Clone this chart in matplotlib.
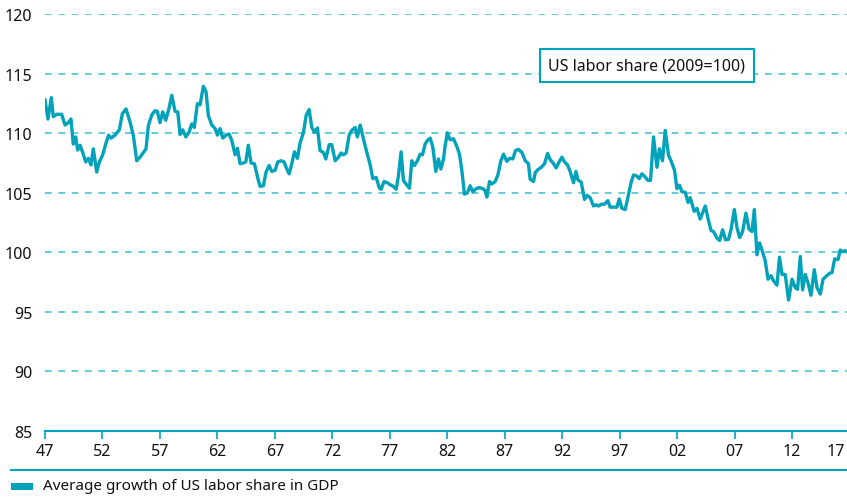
import matplotlib
matplotlib.use('Agg')
import matplotlib.pyplot as plt
from matplotlib.lines import Line2D
from matplotlib.patches import Rectangle
from matplotlib.transforms import ScaledTranslation


# Params
TEAL = '#00A3B9'
GRID = '#4DC2D2'
FONT = 'Noto Sans'

# US labor share (2009=100)
YEARS = [
    1947.00, 1947.26, 1947.55, 1947.72, 1948.02, 1948.45, 1948.74, 1949.03, 1949.26, 1949.46,
    1949.67, 1949.84, 1950.05, 1950.28, 1950.54, 1950.77, 1951.00, 1951.20, 1951.50, 1951.73,
    1952.02, 1952.31, 1952.54, 1952.74, 1953.09, 1953.47, 1953.73, 1954.05, 1954.40, 1954.69,
    1954.98, 1955.27, 1955.79, 1955.99, 1956.29, 1956.57, 1956.77, 1957.01, 1957.24, 1957.50,
    1957.79, 1958.03, 1958.31, 1958.55, 1958.75, 1958.98, 1959.25, 1959.53, 1959.77, 1959.99,
    1960.26, 1960.49, 1960.78, 1961.01, 1961.21, 1961.51, 1961.80, 1962.00, 1962.23, 1962.47,
    1962.75, 1963.01, 1963.25, 1963.54, 1963.74, 1963.97, 1964.21, 1964.47, 1964.69, 1964.93,
    1965.22, 1965.51, 1965.71, 1966.00, 1966.23, 1966.50, 1966.73, 1967.02, 1967.25, 1967.54,
    1967.80, 1968.04, 1968.24, 1968.47, 1968.70, 1968.96, 1969.19, 1969.48, 1969.72, 1969.98,
    1970.21, 1970.44, 1970.70, 1970.93, 1971.22, 1971.43, 1971.72, 1971.95, 1972.24, 1972.53,
    1972.76, 1972.96, 1973.20, 1973.46, 1973.69, 1973.98, 1974.18, 1974.42, 1974.70, 1975.00,
    1975.29, 1975.52, 1975.81, 1976.09, 1976.24, 1976.50, 1976.79, 1977.09, 1977.31, 1977.55,
    1977.75, 1977.98, 1978.18, 1978.48, 1978.71, 1978.91, 1979.14, 1979.40, 1979.64, 1979.84,
    1980.07, 1980.27, 1980.51, 1980.74, 1981.00, 1981.23, 1981.44, 1981.67, 1981.81, 1982.01,
    1982.25, 1982.54, 1982.83, 1983.06, 1983.27, 1983.49, 1983.75, 1983.99, 1984.22, 1984.51,
    1984.80, 1985.09, 1985.29, 1985.44, 1985.67, 1985.88, 1986.16, 1986.40, 1986.66, 1986.89,
    1987.18, 1987.41, 1987.70, 1987.93, 1988.19, 1988.49, 1988.78, 1989.06, 1989.21, 1989.50,
    1989.65, 1989.88, 1990.17, 1990.46, 1990.72, 1990.95, 1991.24, 1991.47, 1991.73, 1991.97,
    1992.20, 1992.46, 1992.69, 1992.98, 1993.19, 1993.36, 1993.65, 1993.94, 1994.15, 1994.43,
    1994.72, 1994.93, 1995.16, 1995.39, 1995.68, 1995.97, 1996.17, 1996.46, 1996.76, 1996.96,
    1997.19, 1997.48, 1997.77, 1998.00, 1998.20, 1998.44, 1998.70, 1998.93, 1999.16, 1999.45,
    1999.68, 1999.94, 2000.24, 2000.46, 2000.72, 2000.96, 2001.25, 2001.48, 2001.77, 2001.98,
    2002.20, 2002.41, 2002.70, 2002.94, 2003.13, 2003.48, 2003.72, 2004.00, 2004.44, 2004.73,
    2004.94, 2005.16, 2005.46, 2005.69, 2005.95, 2006.21, 2006.47, 2006.70, 2006.97, 2007.20,
    2007.43, 2007.69, 2007.98, 2008.25, 2008.51, 2008.71, 2008.94, 2009.17, 2009.38, 2009.66,
    2009.90, 2010.16, 2010.39, 2010.68, 2010.90, 2011.12, 2011.40, 2011.69, 2011.99, 2012.27,
    2012.47, 2012.71, 2012.91, 2013.14, 2013.38, 2013.64, 2013.93, 2014.16, 2014.45, 2014.69,
    2014.97, 2015.26, 2015.47, 2015.70, 2015.99, 2016.19, 2016.43, 2016.63, 2016.77,
]
SHARE = [
    112.8, 111.2, 113.0, 111.4, 111.6, 111.6, 110.7, 110.9, 111.2, 109.1,
    109.7, 108.6, 109.0, 108.4, 107.6, 107.9, 107.35, 108.7, 106.75, 107.6,
    108.2, 109.2, 109.85, 109.6, 109.85, 110.3, 111.65, 112.05, 110.95, 109.8,
    107.7, 108.0, 108.7, 110.65, 111.55, 111.9, 111.85, 110.9, 111.8, 111.1,
    112.1, 113.2, 111.85, 111.8, 109.9, 110.3, 109.7, 110.1, 110.8, 110.5,
    112.5, 112.4, 113.95, 113.5, 111.5, 110.7, 110.4, 109.85, 110.4, 109.6,
    109.85, 109.95, 109.4, 108.2, 108.75, 107.45, 107.5, 107.6, 109.0, 107.5,
    107.45, 106.25, 105.55, 105.6, 106.75, 107.3, 106.8, 106.9, 107.6, 107.7,
    107.6, 107.0, 106.6, 107.45, 108.45, 107.9, 109.2, 110.05, 111.5, 112.0,
    110.5, 110.1, 110.45, 108.55, 108.4, 107.85, 109.05, 109.05, 107.7, 108.0,
    108.35, 108.2, 108.35, 109.85, 110.25, 110.5, 109.7, 110.7, 109.55, 108.4,
    107.35, 106.2, 106.3, 105.4, 105.3, 105.95, 105.85, 105.65, 105.55, 105.3,
    106.45, 108.45, 106.05, 105.65, 105.4, 107.7, 107.3, 107.7, 108.25, 108.2,
    109.1, 109.4, 109.6, 108.85, 106.8, 107.85, 107.0, 107.85, 108.95, 110.05,
    109.45, 109.55, 108.9, 108.25, 106.85, 104.9, 105.0, 105.6, 105.1, 105.35,
    105.45, 105.35, 105.2, 104.65, 105.95, 105.75, 105.95, 106.5, 107.7, 108.25,
    107.65, 107.9, 107.85, 108.55, 108.65, 108.4, 107.7, 107.45, 106.15, 105.95,
    106.7, 106.95, 107.15, 107.45, 108.3, 107.8, 107.45, 107.1, 107.6, 108.0,
    107.6, 107.35, 106.8, 105.85, 106.8, 106.1, 105.9, 104.45, 104.8, 104.6,
    103.9, 104.0, 103.9, 104.05, 104.05, 104.35, 103.8, 103.8, 103.8, 104.5,
    103.7, 103.6, 104.9, 105.9, 106.5, 106.45, 106.2, 106.6, 106.4, 106.05,
    106.05, 109.7, 107.15, 108.7, 107.7, 110.25, 108.15, 107.65, 106.9, 105.35,
    105.65, 105.1, 105.05, 104.2, 104.6, 103.45, 103.7, 102.8, 103.9, 102.65,
    101.85, 101.75, 101.2, 101.0, 101.9, 101.05, 101.1, 102.0, 103.6, 102.1,
    101.25, 101.75, 103.3, 101.95, 101.75, 103.6, 99.8, 100.8, 100.2, 99.3,
    97.75, 98.05, 97.6, 97.25, 99.6, 98.15, 98.15, 96.0, 97.75, 97.05,
    96.9, 99.65, 96.85, 98.15, 97.45, 96.4, 98.55, 97.05, 96.5, 97.75,
    98.0, 98.25, 98.3, 99.45, 99.4, 100.2, 100.05, 100.15, 100.05,
]

X_TICKS = list(range(1947, 2018, 5))
X_LABELS = ['%02d' % (y % 100) for y in X_TICKS]
Y_TICKS = [85, 90, 95, 100, 105, 110, 115, 120]

plt.rcParams['font.family'] = [FONT, 'DejaVu Sans']

fig = plt.figure(figsize=(8.47, 5.02), dpi=100)
W, H = 847, 502
ax = fig.add_axes([45 / W, (H - 432) / H, (849.6 - 45) / W, (432 - 15.3) / H])

ax.plot(YEARS, SHARE, color=TEAL, lw=2.4, solid_joinstyle='round', zorder=3)

ax.set_xlim(1947, 2017)
ax.set_ylim(85, 120)
ax.set_xticks(X_TICKS)
ax.set_xticklabels(X_LABELS)
ax.set_yticks(Y_TICKS)

for v in Y_TICKS[1:]:
    ax.axhline(v, color=GRID, lw=1.2, ls=(0, (4, 4)), zorder=1)

for s in ['top', 'right', 'left']:
    ax.spines[s].set_visible(False)
ax.spines['bottom'].set_color(TEAL)
ax.spines['bottom'].set_linewidth(1.5)
ax.tick_params(axis='x', direction='out', length=6, width=1.2, color=TEAL,
               labelsize=11.5, pad=3, labelcolor='#111111')
ax.tick_params(axis='y', length=0, labelsize=11.5, pad=9, labelcolor='#111111')

# last year label sits at the right edge, nudge it inside the figure
last = ax.get_xticklabels()[-1]
last.set_transform(last.get_transform() + ScaledTranslation(-14 / 100, 0, fig.dpi_scale_trans))

ax.text(0.748, 0.877, 'US labor share (2009=100)', transform=ax.transAxes,
        ha='center', va='center', fontsize=11.5, color='#111111', zorder=5,
        bbox=dict(boxstyle='square,pad=0.55', fc='white', ec=TEAL, lw=1.5))

# legend strip under the chart
fig.add_artist(Line2D([11 / W, 1], [(H - 471) / H] * 2, color=TEAL, lw=1.5))
fig.add_artist(Rectangle((11 / W, (H - 491) / H), 22 / W, 7 / H, color=TEAL, lw=0))
fig.text(43 / W, (H - 487) / H, 'Average growth of US labor share in GDP',
         fontsize=11, color='#111111', va='center', ha='left')

fig.savefig('out.png', dpi=100)
